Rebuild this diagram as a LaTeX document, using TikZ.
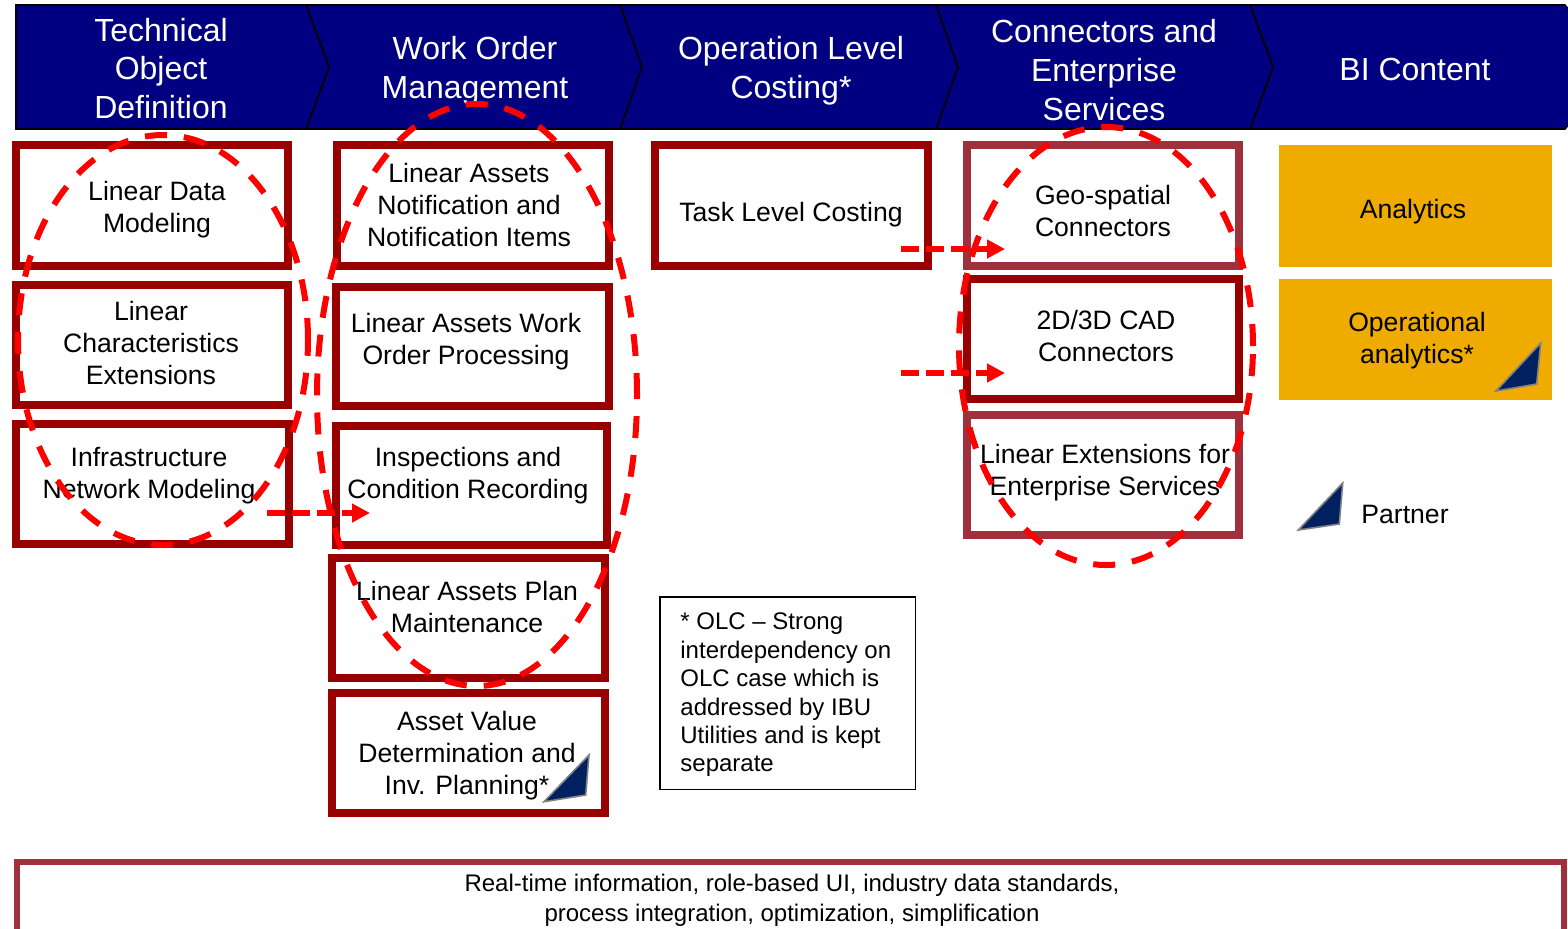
\documentclass[tikz,border=0pt]{standalone}
\usepackage{fontspec}
\setmainfont{Liberation Sans}
\usetikzlibrary{arrows.meta,shapes.geometric}
\definecolor{hdrblue}{HTML}{000080}
\definecolor{boxdark}{HTML}{990000}
\definecolor{boxrose}{HTML}{A0303C}
\definecolor{gold}{HTML}{F0AB00}
\definecolor{partner}{HTML}{002060}
\definecolor{dashred}{HTML}{FF0000}
\tikzset{
  hdr/.style={fill=hdrblue,draw=black,line width=.8pt,line join=miter},
  hdrtext/.style={text=white,align=center,inner sep=0pt,font=\fontsize{16}{19.4}\selectfont},
  bodytext/.style={text=black,align=center,inner sep=0pt,font=\fontsize{13.3}{16}\selectfont},
  smalltext/.style={text=black,align=left,inner sep=0pt,font=\fontsize{12}{14.2}\selectfont},
  foottext/.style={text=black,align=center,inner sep=0pt,font=\fontsize{12}{15}\selectfont},
  darkbox/.style={draw=boxdark,line width=4pt,fill=white},
  rosebox/.style={draw=boxrose,line width=4pt,fill=white},
  footbox/.style={draw=boxrose,line width=3pt,fill=white},
  goldbox/.style={fill=gold,inner sep=0pt},
  notebox/.style={draw=black,line width=.75pt,fill=white},
  tri/.style={fill=partner,draw=gray,line width=.8pt,line join=miter},
  scopering/.style={ellipse,draw=dashred,line width=3pt,dash pattern=on 11pt off 8.5pt,inner sep=0pt,outer sep=0pt},
  flow/.style={draw=dashred,line width=3pt,dash pattern=on 9pt off 3.5pt,
    -{Triangle[length=9pt,width=9pt]}},
}
\newcommand{\pbox}[7]{%
  \node[#2,minimum width={(#5-#3)*0.5pt-#7},minimum height={(#6-#4)*0.5pt-#7},inner sep=0pt,outer sep=0pt]
    (#1) at ({(#3+#5)/2},{(#4+#6)/2}) {};}
\begin{document}
\begin{tikzpicture}[x=0.5pt,y=-0.5pt]
\useasboundingbox (0,0) rectangle (1568,928);
\clip (0,0) rectangle (1568,928);
\fill[white] (0,0) rectangle (1568,928);
\draw[hdr] (1250,5) -- (1565,5) -- (1569,10) -- (1569,124) -- (1565,129) -- (1250,129) -- (1273,67) -- cycle;
\draw[hdr] (936,5) -- (1250,5) -- (1273,67) -- (1250,129) -- (936,129) -- (958,67) -- cycle;
\draw[hdr] (620,5) -- (936,5) -- (958,67) -- (936,129) -- (620,129) -- (642,67) -- cycle;
\draw[hdr] (306,5) -- (620,5) -- (642,67) -- (620,129) -- (306,129) -- (329,67) -- cycle;
\draw[hdr] (16,5) -- (306,5) -- (329,67) -- (306,129) -- (16,129) -- cycle;
\node[hdrtext] (h1) at (161,68.5) {Technical\\Object\\Definition};
\node[hdrtext] (h2) at (475,71) {Work Order\\Management};
\node[hdrtext] (h3) at (791,71) {Operation Level\\Costing*};
\node[hdrtext] (h4) at (1104,70) {Connectors and\\Enterprise\\Services};
\node[hdrtext] (h5) at (1415,69) {BI Content};
\pbox{c1a}{darkbox}{12}{141}{292}{270}{4pt}
\pbox{c1b}{darkbox}{12}{281}{292}{409}{4pt}
\pbox{c1c}{darkbox}{12}{420}{293}{548}{4pt}
\pbox{c2a}{darkbox}{333}{141}{613}{270}{4pt}
\pbox{c2b}{darkbox}{332}{283}{613}{410}{4pt}
\pbox{c2c}{darkbox}{332}{422}{611}{549}{4pt}
\pbox{c2d}{darkbox}{328}{554}{609}{682}{4pt}
\pbox{c2e}{darkbox}{328}{689}{609}{817}{4pt}
\pbox{c3a}{darkbox}{651}{141}{932}{270}{4pt}
\pbox{c4a}{rosebox}{963}{141}{1243}{270}{4pt}
\pbox{c4b}{darkbox}{963}{275}{1243}{403}{4pt}
\pbox{c4c}{rosebox}{963}{411}{1243}{539}{4pt}
\pbox{c5a}{goldbox}{1279}{145}{1552}{267}{0pt}
\pbox{c5b}{goldbox}{1279}{279}{1552}{400}{0pt}
\pbox{note}{notebox}{659}{596}{916}{790}{0.75pt}
\pbox{foot}{footbox}{14}{859}{1567}{960}{3pt}
\draw[tri] (589,755) -- (585.7,795) -- (544,801.7) -- cycle;
\draw[tri] (1540.7,343) -- (1536.7,384) -- (1496,391) -- cycle;
\draw[tri] (1342.7,483) -- (1339.3,524) -- (1298.3,530) -- cycle;
\node[bodytext] (t1a) at (157,210) {Linear Data\\Modeling};
\node[bodytext] (t1b) at (151,343) {Linear\\Characteristics\\Extensions};
\node[bodytext] (t1c) at (149,476) {Infrastructure\\Network Modeling};
\node[bodytext] (t2a) at (469,205) {Linear Assets\\Notification and\\Notification Items};
\node[bodytext] (t2b) at (466,342) {Linear Assets Work\\Order Processing};
\node[bodytext] (t2c) at (468,476) {Inspections and\\Condition Recording};
\node[bodytext] (t2d) at (467,607) {Linear Assets Plan\\Maintenance};
\node[bodytext] (t2e) at (467,756) {Asset Value\\Determination and\\Inv. Planning*};
\node[bodytext] (t3a) at (791,215) {Task Level Costing};
\node[bodytext] (t4a) at (1103,211) {Geo-spatial\\Connectors};
\node[bodytext] (t4b) at (1106,336) {2D/3D CAD\\Connectors};
\node[bodytext] (t4c) at (1105,473) {Linear Extensions for\\Enterprise Services};
\node[bodytext] (t5a) at (1413,212) {Analytics};
\node[bodytext] (t5b) at (1417,341) {Operational\\analytics*};
\node[bodytext] (t5c) at (1405,514) {Partner};
\node[smalltext,anchor=west] (tnote) at (680,695) {* OLC – Strong\\interdependency on\\OLC case which is\\addressed by IBU\\Utilities and is kept\\separate};
\node[foottext] (tfoot) at (792,900) {Real-time information, role-based UI, industry data standards,\\process integration, optimization, simplification};
\node[scopering,minimum width=145pt,minimum height=205pt] (r1) at (163,340) {};
\node[scopering,minimum width=160pt,minimum height=291pt] (r2) at (477,395) {};
\node[scopering,minimum width=147pt,minimum height=219pt] (r3) at (1106,346) {};
\coordinate (a1s) at (267,513); \coordinate (a1e) at (370,513);
\coordinate (a2s) at (901,249); \coordinate (a2e) at (1005,249);
\coordinate (a3s) at (901,373); \coordinate (a3e) at (1005,373);
\draw[flow] (a1s) -- (a1e);
\draw[flow] (a2s) -- (a2e);
\draw[flow] (a3s) -- (a3e);
\end{tikzpicture}
\end{document}
